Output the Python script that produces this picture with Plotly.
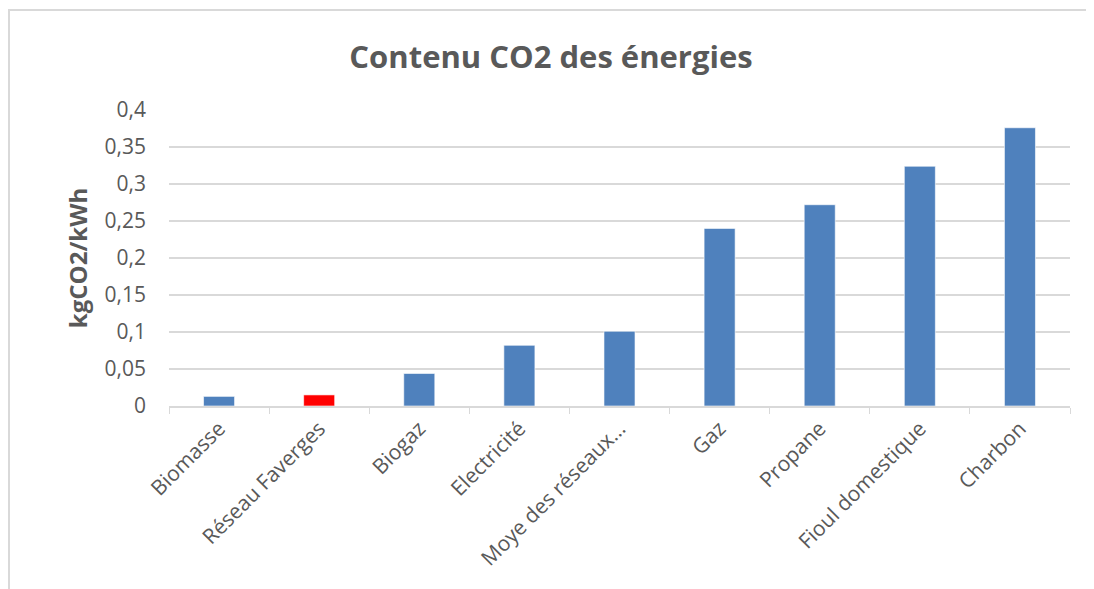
import plotly.graph_objects as go

categories = ["Biomasse", "Réseau Faverges", "Biogaz", "Electricité",
              "Moye des réseaux…", "Gaz", "Propane", "Fioul domestique", "Charbon"]
values = [0.013, 0.015, 0.044, 0.082, 0.101, 0.24, 0.272, 0.324, 0.376]
highlight = "Réseau Faverges"

BLUE = "#4F81BD"
RED = "#FF0000"
GREY_TEXT = "#595959"
GRID = "#D9D9D9"
FONT = "Open Sans"

colors = [RED if c == highlight else BLUE for c in categories]

fig = go.Figure(go.Bar(
    x=categories, y=values,
    marker_color=colors,
    marker_line=dict(color="rgba(255,255,255,0.6)", width=1),
    hovertemplate="%{x}: %{y}<extra></extra>",
))

# outer chart frame like the Excel chart area
fig.add_shape(type="rect", xref="paper", yref="paper",
              x0=-0.1776, x1=1.0222, y0=-0.8, y1=1.3378,
              line=dict(color=GRID, width=2), layer="below")

# page body adds an 8px offset, so the figure is 8px smaller than the window
fig.update_layout(
    width=1086, height=581,
    margin=dict(l=161, r=24, t=102, b=183),
    paper_bgcolor="white", plot_bgcolor="white",
    separators=", ",
    showlegend=False,
    bargap=0.69,
    font=dict(family=FONT, color=GREY_TEXT, size=21),
    title=dict(text="<b>Contenu CO2 des énergies</b>", x=0.5, xanchor="center",
               y=1 - 49 / 581, yanchor="middle",
               font=dict(family=FONT, size=31, color=GREY_TEXT)),
    xaxis=dict(
        tickangle=-45, tickson="boundaries", ticks="outside", ticklen=6,
        tickcolor=GRID, showline=True, linecolor=GRID, linewidth=2,
        showgrid=False, tickfont=dict(size=21, color=GREY_TEXT),
    ),
    yaxis=dict(
        range=[0, 0.4], dtick=0.05, showgrid=True, gridcolor=GRID, gridwidth=2,
        zeroline=False, ticks="", tickfont=dict(size=21, color=GREY_TEXT),
        ticklabelstandoff=22,
        title=dict(text="<b>kgCO2/kWh</b>", standoff=10,
                   font=dict(size=24, color=GREY_TEXT)),
    ),
)

fig.write_html("out.html")
